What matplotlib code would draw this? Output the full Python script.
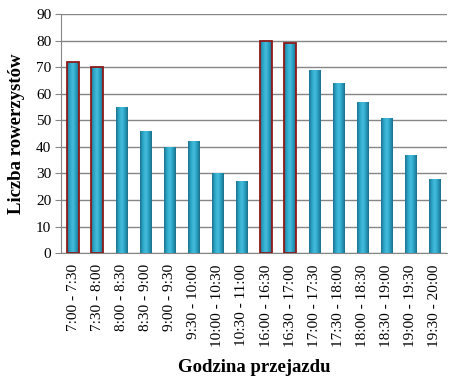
import matplotlib
matplotlib.use("Agg")
import matplotlib.pyplot as plt
import numpy as np
from matplotlib.colors import LinearSegmentedColormap

categories = ["7:00 - 7:30", "7:30 - 8:00", "8:00 - 8:30", "8:30 - 9:00", "9:00 - 9:30",
              "9:30 - 10:00", "10:00 - 10:30", "10:30 - 11:00", "16:00 - 16:30", "16:30 - 17:00",
              "17:00 - 17:30", "17:30 - 18:00", "18:00 - 18:30", "18:30 - 19:00", "19:00 - 19:30",
              "19:30 - 20:00"]
values = [72, 70, 55, 46, 40, 42, 30, 27, 80, 79, 69, 64, 57, 51, 37, 28]
highlighted = [0, 1, 8, 9]

plt.rcParams['font.family'] = ['Liberation Serif', 'DejaVu Serif']

fig = plt.figure(figsize=(4.53, 3.87), dpi=100)
ax = fig.add_axes([0.1347, 0.346, 0.852, 0.618])

x = np.arange(len(categories))
width = 0.48
bars = ax.bar(x, values, width=width, color='#2a9ec0', zorder=3)

cmap = LinearSegmentedColormap.from_list('cyl', ['#1c7490', '#2ea6c8', '#46bddc', '#2a9ec0', '#1a6f8a'])
grad = np.linspace(0, 1, 64).reshape(1, -1)
for i, b in enumerate(bars):
    x0, w, h = b.get_x(), b.get_width(), b.get_height()
    im = ax.imshow(grad, extent=[x0, x0 + w, 0, h], aspect='auto', cmap=cmap, zorder=3.5, origin='lower')
    im.set_clip_path(b)
    if i in highlighted:
        b.set_edgecolor('#8e1a1a')
        b.set_linewidth(1.3)
        b.set_zorder(4)
        b.set_facecolor('none')

ax.set_xlim(-0.5, len(categories) - 0.5)
ax.set_ylim(0, 90)
ax.set_yticks(np.arange(0, 91, 10))
ax.yaxis.grid(True, color='#868686', linewidth=1.0, zorder=0)
ax.set_axisbelow(True)
for s in ['top', 'right']:
    ax.spines[s].set_visible(False)
ax.spines['left'].set_color('#868686')
ax.spines['bottom'].set_color('#868686')
ax.tick_params(axis='y', length=4, color='#868686', labelsize=11, pad=3)
ax.set_xticks(x)
ax.set_xticklabels(categories, rotation=90, fontsize=11)
ax.tick_params(axis='x', length=0, pad=8)

ax.set_ylabel('Liczba rowerzystów', fontsize=13.5, fontweight='bold', labelpad=8)
ax.set_xlabel('Godzina przejazdu', fontsize=13.5, fontweight='bold', labelpad=9)

fig.savefig('out.png', dpi=100)
